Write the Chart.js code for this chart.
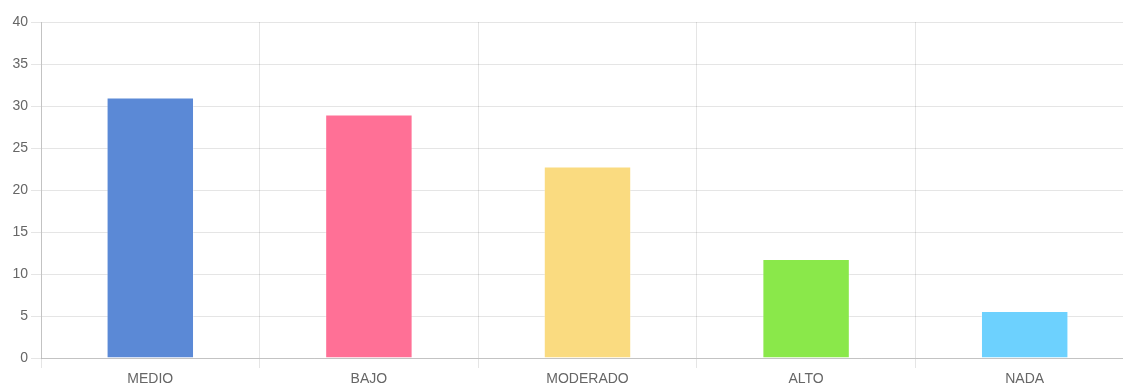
<!DOCTYPE html>
<html>
<head>
<meta charset="utf-8">
<script src="https://cdn.jsdelivr.net/npm/chart.js@4/dist/chart.umd.min.js"></script>
<style>
  html, body { margin: 0; padding: 0; background: #fff; overflow: hidden; }
  #wrap { width: 1134px; height: 385px; position: relative; }
</style>
</head>
<body>
<div id="wrap"><canvas id="c"></canvas></div>
<script>
// Niveles y porcentaje de respuestas por nivel
const categories = ['MEDIO', 'BAJO', 'MODERADO', 'ALTO', 'NADA'];
const values = [31.0, 29.0, 22.8, 11.8, 5.6];
const barColors = ['#5b89d6', '#ff7096', '#fadb80', '#8ae84a', '#6dd1fe'];
const yTicks = { min: 0, max: 40, step: 5 };

Chart.defaults.font.family = '"Liberation Sans", Arial, sans-serif';
Chart.defaults.font.size = 14;
Chart.defaults.color = '#666';

new Chart(document.getElementById('c'), {
  type: 'bar',
  data: {
    labels: categories,
    datasets: [{
      data: values,
      backgroundColor: barColors,
      borderColor: 'rgba(255,255,255,0.3)',
      borderWidth: 1,
      barPercentage: 0.5,
      categoryPercentage: 0.8
    }]
  },
  options: {
    responsive: true,
    maintainAspectRatio: false,
    animation: false,
    layout: { padding: { top: 22, right: 0, left: 0, bottom: 0 } },
    plugins: { legend: { display: false }, tooltip: { enabled: false } },
    scales: {
      x: {
        grid: { color: 'rgba(0,0,0,0.1)', tickLength: 10, offset: true },
        border: { color: 'rgba(0,0,0,0.15)' },
        ticks: { color: '#666', padding: 3, font: { size: 14 } },
        afterFit(scale) { scale.height = 27; }
      },
      y: {
        min: yTicks.min,
        max: yTicks.max,
        grid: { color: 'rgba(0,0,0,0.1)', tickLength: 10 },
        border: { color: 'rgba(0,0,0,0.15)' },
        ticks: { stepSize: yTicks.step, color: '#666', padding: 3, font: { size: 14 } },
        afterFit(scale) { scale.width = 41; }
      }
    }
  }
});
</script>
</body>
</html>
